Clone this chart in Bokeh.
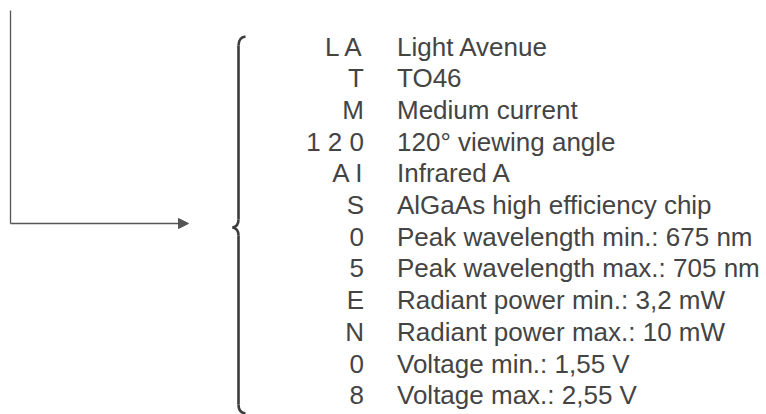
from bokeh.plotting import figure
from bokeh.models import Range1d, Arrow, NormalHead, ColumnDataSource
from bokeh.core.properties import value
from bokeh.embed import file_html
from bokeh.resources import INLINE

codes = ["L A", "T", "M", "1 2 0", "A I", "S", "0", "5", "E", "N", "0", "8"]
descriptions = [
    "Light Avenue",
    "TO46",
    "Medium current",
    "120\u00b0 viewing angle",
    "Infrared A",
    "AlGaAs high efficiency chip",
    "Peak wavelength min.: 675 nm",
    "Peak wavelength max.: 705 nm",
    "Radiant power min.: 3,2 mW",
    "Radiant power max.: 10 mW",
    "Voltage min.: 1,55 V",
    "Voltage max.: 2,55 V",
]

# layout (page pixel coordinates)
first_baseline = 46.0
row_step = 31.7
code_right = 363.5
desc_left = 396.5
font = value("Liberation Sans")
text_color = "#444444"
fsize = "26px"

W, H = 766, 414
p = figure(width=W, height=H, output_backend="svg", toolbar_location=None,
           x_range=Range1d(0, W), y_range=Range1d(H, 0),
           min_border=0, outline_line_color=None)
p.axis.visible = False
p.grid.visible = False
p.background_fill_color = "white"
p.border_fill_color = "white"

ys = [first_baseline + i * row_step for i in range(len(codes))]
src = ColumnDataSource(dict(y=ys, code=codes, desc=descriptions,
                            xc=[code_right] * len(codes), xd=[desc_left] * len(codes)))
p.text(x="xc", y="y", text="code", source=src, text_align="right", text_baseline="alphabetic",
       text_font=font, text_font_size=fsize, text_color=text_color)
p.text(x="xd", y="y", text="desc", source=src, text_align="left", text_baseline="alphabetic",
       text_font=font, text_font_size=fsize, text_color=text_color)

# connector line with arrow
line_color = "#555555"
p.line(x=[10, 10], y=[10, 223], line_color=line_color, line_width=1.3)
p.add_layout(Arrow(end=NormalHead(size=10, fill_color=line_color, line_color=line_color),
                   x_start=10, y_start=223, x_end=188, y_end=223,
                   line_color=line_color, line_width=1.3))

# curly brace
bx, tipx = 238, 232
top, bot, mid = 36, 413, 227
bc = "#3c3c3c"
bw = 2.6
p.quadratic(x0=[245], y0=[top], x1=[bx], y1=[top + 9], cx=[bx], cy=[top + 1],
            line_color=bc, line_width=bw)
p.line(x=[bx, bx], y=[top + 9, mid - 8], line_color=bc, line_width=bw)
p.quadratic(x0=[bx], y0=[mid - 8], x1=[tipx], y1=[mid], cx=[bx], cy=[mid - 1],
            line_color=bc, line_width=bw)
p.quadratic(x0=[tipx], y0=[mid], x1=[bx], y1=[mid + 8], cx=[bx], cy=[mid + 1],
            line_color=bc, line_width=bw)
p.line(x=[bx, bx], y=[mid + 8, bot - 9], line_color=bc, line_width=bw)
p.quadratic(x0=[bx], y0=[bot - 9], x1=[245], y1=[bot], cx=[bx], cy=[bot - 1],
            line_color=bc, line_width=bw)

open("out.html", "w").write(file_html(p, INLINE))
